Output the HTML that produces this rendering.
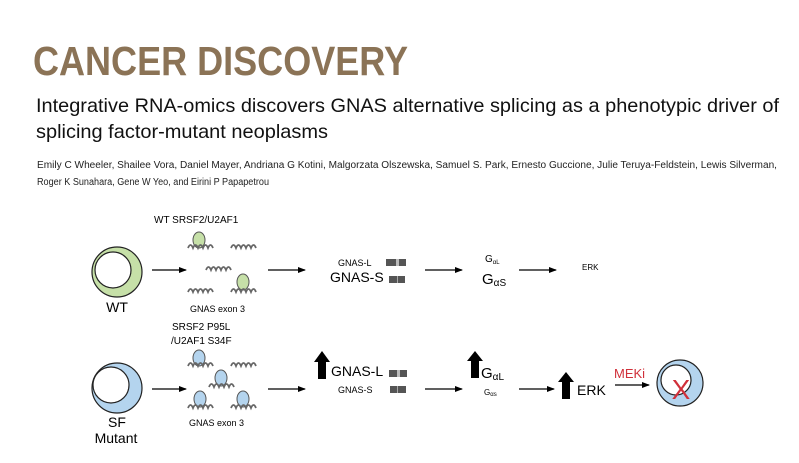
<!DOCTYPE html>
<html><head><meta charset="utf-8"><style>
html,body{margin:0;padding:0;background:#fff;}
svg{display:block;font-family:"Liberation Sans",Arial,sans-serif;}
</style></head><body>
<svg width="799" height="463" viewBox="0 0 799 463" xmlns="http://www.w3.org/2000/svg">
<defs>
<marker id="ah" markerWidth="8" markerHeight="8" refX="7" refY="4" orient="auto" markerUnits="userSpaceOnUse">
<path d="M0,1 L8,4 L0,7 z" fill="#000"/></marker>
<path id="sq" d="M0,6 q2.5,-6 5,0 q2.5,-6 5,0 q2.5,-6 5,0 q2.5,-6 5,0 q2.5,-6 5,0" fill="none" stroke="#666" stroke-width="1.8"/>
</defs>
<text x="33" y="75" font-size="41" font-weight="bold" fill="#8b7356" textLength="375" lengthAdjust="spacingAndGlyphs">CANCER DISCOVERY</text>
<text x="36" y="112" font-size="19.5" fill="#111" textLength="743" lengthAdjust="spacingAndGlyphs">Integrative RNA-omics discovers GNAS alternative splicing as a phenotypic driver of</text>
<text x="36" y="138" font-size="19.5" fill="#111" textLength="292" lengthAdjust="spacingAndGlyphs">splicing factor-mutant neoplasms</text>
<text x="37" y="168" font-size="10" fill="#222" textLength="740" lengthAdjust="spacingAndGlyphs">Emily C Wheeler, Shailee Vora, Daniel Mayer, Andriana G Kotini, Malgorzata Olszewska, Samuel S. Park, Ernesto Guccione, Julie Teruya-Feldstein, Lewis Silverman,</text>
<text x="37" y="185" font-size="10" fill="#222" textLength="232" lengthAdjust="spacingAndGlyphs">Roger K Sunahara, Gene W Yeo, and Eirini P Papapetrou</text>

<!-- WT row -->
<circle cx="117" cy="272" r="25" fill="#c6e0a8" stroke="#222" stroke-width="1.2"/>
<circle cx="113" cy="270" r="18" fill="#fff" stroke="#222" stroke-width="1.2"/>
<text x="117" y="312" font-size="14" text-anchor="middle">WT</text>
<g stroke="#000" stroke-width="1.3" marker-end="url(#ah)">
<line x1="152" y1="270" x2="186" y2="270"/>
<line x1="268" y1="270" x2="305" y2="270"/>
<line x1="425" y1="270" x2="462" y2="270"/>
<line x1="519" y1="270" x2="556" y2="270"/>
<line x1="152" y1="389" x2="186" y2="389"/>
<line x1="268" y1="389" x2="305" y2="389"/>
<line x1="425" y1="389" x2="462" y2="389"/>
<line x1="519" y1="389" x2="554" y2="389"/>
<line x1="615" y1="385" x2="649" y2="385"/>
</g>
<text x="154" y="223" font-size="10">WT SRSF2/U2AF1</text>
<ellipse cx="199" cy="240" rx="6" ry="8" fill="#c6e0a8" stroke="#555"/>
<use href="#sq" x="188" y="242"/>
<use href="#sq" x="231" y="242"/>
<use href="#sq" x="206" y="264"/>
<use href="#sq" x="188" y="286"/>
<ellipse cx="243" cy="282" rx="6" ry="8" fill="#c6e0a8" stroke="#555"/>
<use href="#sq" x="231" y="286"/>
<text x="190" y="312" font-size="9">GNAS exon 3</text>

<text x="338" y="266" font-size="9">GNAS-L</text>
<rect x="386" y="259" width="20" height="7" fill="#555"/><rect x="396" y="259" width="3" height="7" fill="#bbb"/>
<text x="330" y="282" font-size="14">GNAS-S</text>
<rect x="389" y="276" width="16" height="7" fill="#555"/><rect x="397" y="276" width="1" height="7" fill="#aaa"/>

<text x="485" y="262" font-size="10">G<tspan font-size="6" dy="2">αL</tspan></text>
<text x="482" y="284" font-size="15">G<tspan font-size="10" dy="2">αS</tspan></text>
<text x="582" y="270" font-size="8">ERK</text>

<!-- Mutant row -->
<circle cx="117" cy="388" r="25" fill="#b4d4ee" stroke="#222" stroke-width="1.2"/>
<circle cx="111" cy="385" r="18" fill="#fff" stroke="#222" stroke-width="1.2"/>
<text x="117" y="427" font-size="14" text-anchor="middle">SF</text>
<text x="116" y="443" font-size="14" text-anchor="middle">Mutant</text>
<text x="172" y="330" font-size="10">SRSF2 P95L</text>
<text x="171" y="344" font-size="10">/U2AF1 S34F</text>
<ellipse cx="199" cy="358" rx="6" ry="8" fill="#b4d4ee" stroke="#555"/>
<use href="#sq" x="188" y="360"/>
<use href="#sq" x="231" y="360"/>
<ellipse cx="221" cy="378" rx="6" ry="8" fill="#b4d4ee" stroke="#555"/>
<use href="#sq" x="209" y="381"/>
<ellipse cx="200" cy="399" rx="6" ry="8" fill="#b4d4ee" stroke="#555"/>
<use href="#sq" x="188" y="402"/>
<ellipse cx="243" cy="399" rx="6" ry="8" fill="#b4d4ee" stroke="#555"/>
<use href="#sq" x="231" y="402"/>
<text x="189" y="426" font-size="9">GNAS exon 3</text>

<path d="M318,379 L318,362 L314,362 L322,351 L330,362 L326,362 L326,379 z" fill="#000"/>
<text x="331" y="376" font-size="14">GNAS-L</text>
<rect x="389" y="370" width="18" height="7" fill="#555"/><rect x="397" y="370" width="3" height="7" fill="#bbb"/>
<text x="338" y="393" font-size="9">GNAS-S</text>
<rect x="390" y="386" width="16" height="7" fill="#555"/><rect x="397" y="386" width="1" height="7" fill="#aaa"/>

<path d="M471,378 L471,361 L467,361 L475,351 L483,361 L479,361 L479,378 z" fill="#000"/>
<text x="481" y="378" font-size="15">G<tspan font-size="10" dy="2">αL</tspan></text>
<text x="484" y="395" font-size="8">G<tspan font-size="6" dy="1">αs</tspan></text>

<path d="M562,399 L562,382 L558,382 L566,372 L574,382 L570,382 L570,399 z" fill="#000"/>
<text x="577" y="395" font-size="14">ERK</text>
<text x="614" y="378" font-size="13" fill="#d0303a">MEKi</text>
<circle cx="680" cy="383" r="23" fill="#b4d4ee" stroke="#222" stroke-width="1.2"/>
<circle cx="676" cy="380" r="15" fill="#fff" stroke="#222" stroke-width="1.2"/>
<text x="681" y="399" font-size="28" fill="#d0303a" text-anchor="middle">X</text>
</svg>
</body></html>
